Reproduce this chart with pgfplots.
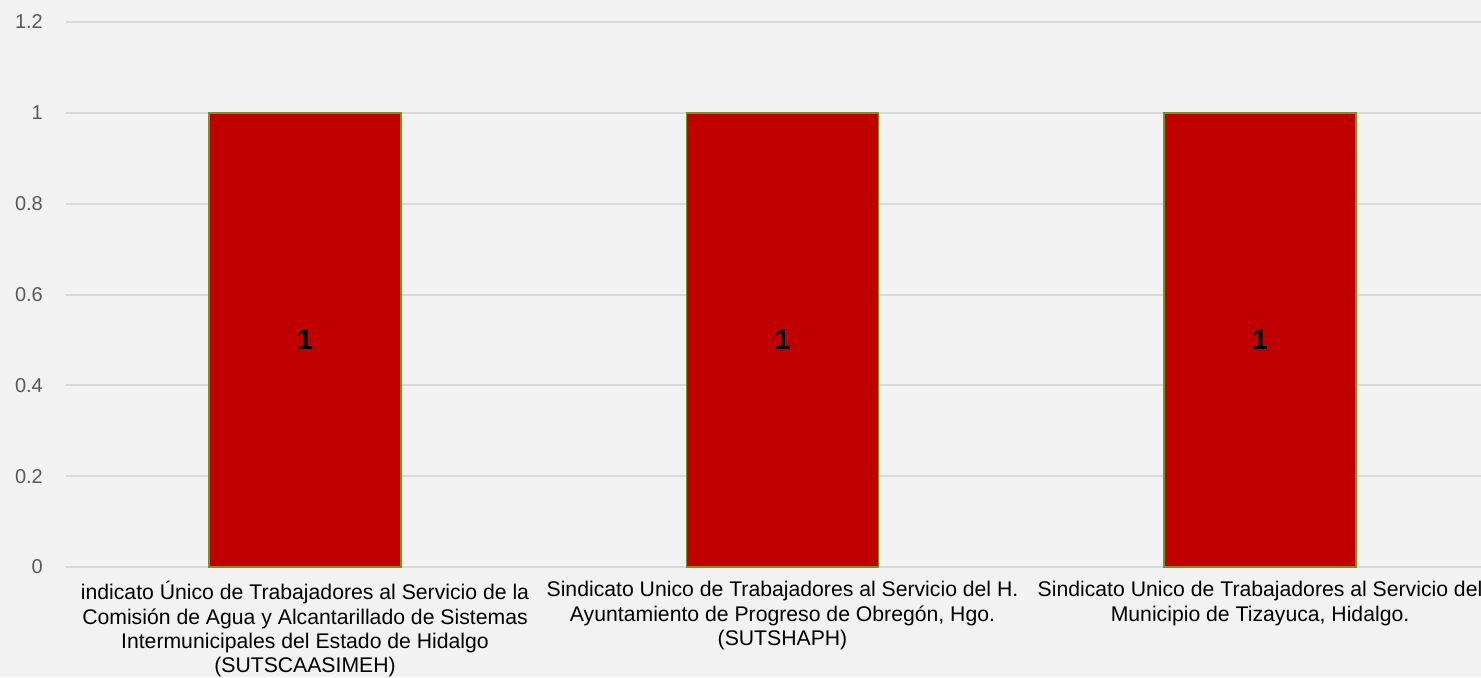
\documentclass[border=0pt]{standalone}
\usepackage{pgfplots}
\pgfplotsset{compat=1.18}
\usepackage{fontspec}
\setmainfont{Liberation Sans}
\definecolor{bg}{HTML}{F2F2F2}
\definecolor{gridgray}{HTML}{D9D9D9}
\definecolor{tickgray}{HTML}{595959}
\definecolor{barred}{HTML}{C00000}
\definecolor{baredge}{HTML}{7F8F1F}
\begin{document}
\begin{tikzpicture}
\fill[bg] (0,0) rectangle (740.5pt,338.5pt);
\useasboundingbox (0,0) rectangle (740.5pt,338.5pt);
\begin{axis}[
  at={(33.125pt,55pt)}, anchor=south west,
  scale only axis,
  width=707.375pt, height=272.5pt,
  ybar, bar width=0.402,
  xmin=-0.5, xmax=2.4628,
  ymin=0, ymax=1.2,
  ytick={0,0.2,...,1.2},
  yticklabels={0,0.2,0.4,0.6,0.8,1,1.2},
  xtick={0,1,2},
  xticklabels={
    {indicato Único de Trabajadores al Servicio de la\\Comisión de Agua y Alcantarillado de Sistemas\\Intermunicipales del Estado de Hidalgo\\(SUTSCAASIMEH)},
    {Sindicato Unico de Trabajadores al Servicio del H.\\Ayuntamiento de Progreso de Obregón, Hgo.\\(SUTSHAPH)},
    {Sindicato Unico de Trabajadores al Servicio del\\Municipio de Tizayuca, Hidalgo.}},
  axis line style={draw=none},
  major tick length=0pt,
  ymajorgrids,
  grid style={gridgray, line width=1pt},
  yticklabel style={text=tickgray, anchor=east, inner sep=0pt, xshift=-11.5pt, font=\fontsize{10}{11.5}\selectfont},
  xticklabel style={text=black, anchor=north, align=center, inner sep=0pt, yshift=-7pt, font=\fontsize{10.6}{12.2}\selectfont},
  /pgf/number format/assume math mode=true,
  clip=false,
]
\addplot[fill=barred, draw=baredge, line width=0.9pt,
  nodes near coords={\textbf{1}},
  every node near coord/.style={font=\fontsize{14.5}{16}\selectfont, text=black, anchor=center, yshift=-113.5pt}]
  coordinates {(0,1) (1,1) (2,1)};
\end{axis}
\end{tikzpicture}
\end{document}
